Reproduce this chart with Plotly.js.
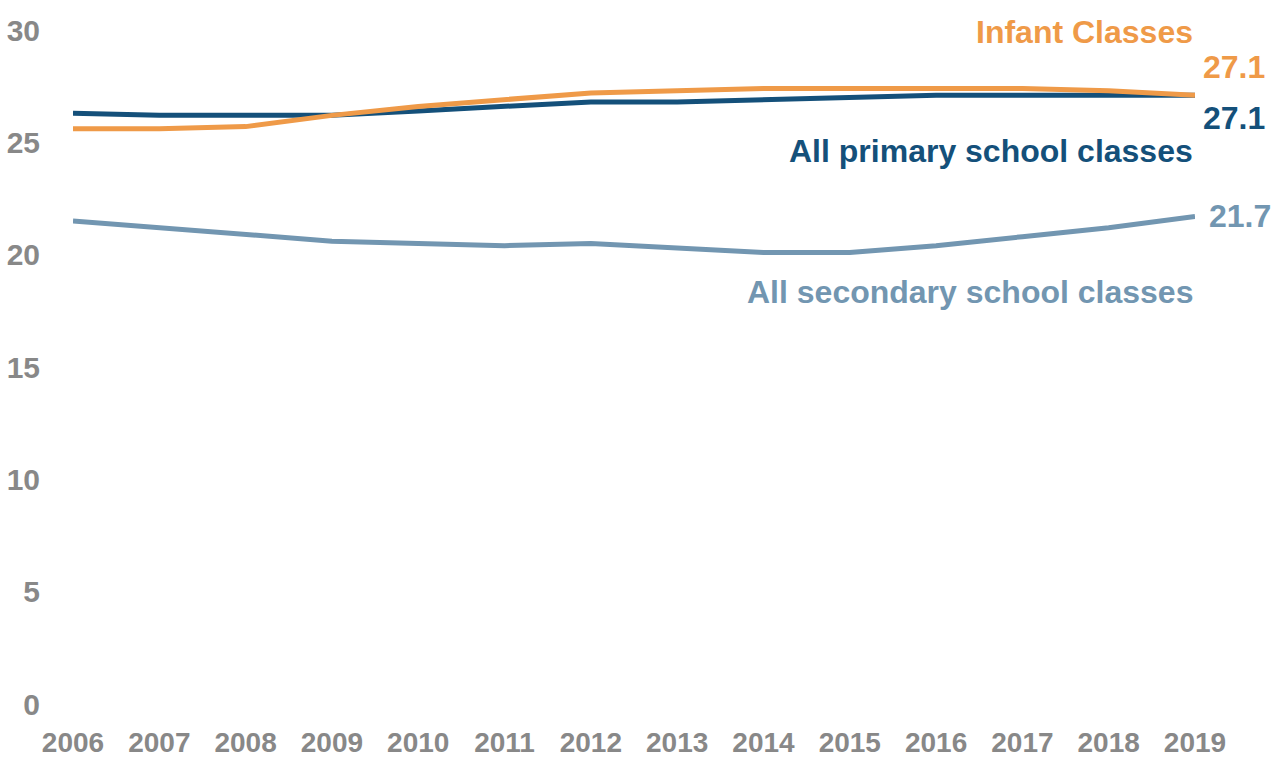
<!DOCTYPE html>
<html>
<head>
<meta charset="utf-8">
<script src="https://cdn.plot.ly/plotly-3.0.1.min.js"></script>
<style>
  html, body { margin: 0; padding: 0; background: #ffffff; }
  #chart { width: 1279px; height: 758px; }
</style>
</head>
<body>
<div id="chart"></div>
<script>
const years = [2006, 2007, 2008, 2009, 2010, 2011, 2012, 2013, 2014, 2015, 2016, 2017, 2018, 2019];
const infantClasses = [25.6, 25.6, 25.7, 26.2, 26.6, 26.9, 27.2, 27.3, 27.4, 27.4, 27.4, 27.4, 27.3, 27.1];
const primaryClasses = [26.3, 26.2, 26.2, 26.2, 26.4, 26.6, 26.8, 26.8, 26.9, 27.0, 27.1, 27.1, 27.1, 27.1];
const secondaryClasses = [21.5, 21.2, 20.9, 20.6, 20.5, 20.4, 20.5, 20.3, 20.1, 20.1, 20.4, 20.8, 21.2, 21.7];
const yTicks = [0, 5, 10, 15, 20, 25, 30];
const seriesNames = ["Infant Classes", "All primary school classes", "All secondary school classes"];

const cOrange = "#EF9A48";
const cDark = "#14507A";
const cLight = "#7296B1";
const cGrey = "#888888";
const fontFam = "Liberation Sans, Arial, sans-serif";

const traces = [
  { x: years, y: secondaryClasses, name: seriesNames[2], mode: "lines", line: { color: cLight, width: 5 } },
  { x: years, y: primaryClasses, name: seriesNames[1], mode: "lines", line: { color: cDark, width: 5 } },
  { x: years, y: infantClasses, name: seriesNames[0], mode: "lines", line: { color: cOrange, width: 5 } }
];

const last = years.length - 1;
const fmt = v => v.toFixed(1);
const ann = (text, x, y, color, xanchor, xshift) => ({
  text: "<b>" + text + "</b>", x: x, y: y, xref: "x", yref: "y",
  xanchor: xanchor, yanchor: "middle", xshift: xshift || 0, showarrow: false,
  font: { family: fontFam, size: 32, color: color }
});

const layout = {
  width: 1279, height: 758,
  margin: { l: 73, r: 84, t: 30, b: 54 },
  paper_bgcolor: "#ffffff", plot_bgcolor: "#ffffff",
  showlegend: false,
  font: { family: fontFam, color: cGrey },
  xaxis: {
    range: [years[0], years[last]],
    tickvals: years, ticktext: years.map(y => "<b>" + y + "</b>"),
    showgrid: false, zeroline: false, showline: false,
    ticks: "outside", ticklen: 13, tickcolor: "rgba(0,0,0,0)",
    tickfont: { family: fontFam, size: 28, color: cGrey },
    fixedrange: true
  },
  yaxis: {
    range: [0, 30],
    tickvals: yTicks, ticktext: yTicks.map(v => "<b>" + v + "</b>"),
    showgrid: false, zeroline: false, showline: false,
    ticks: "outside", ticklen: 26, tickcolor: "rgba(0,0,0,0)",
    tickfont: { family: fontFam, size: 30, color: cGrey },
    fixedrange: true
  },
  annotations: [
    ann(seriesNames[0], years[last], 29.9, cOrange, "right", 0),
    ann(fmt(infantClasses[last]), years[last], 28.35, cOrange, "left", 6),
    ann(fmt(primaryClasses[last]), years[last], 26.1, cDark, "left", 6),
    ann(seriesNames[1], years[last], 24.6, cDark, "right", 0),
    ann(fmt(secondaryClasses[last]), years[last], 21.7, cLight, "left", 12),
    ann(seriesNames[2], years[last], 18.35, cLight, "right", 0)
  ]
};

Plotly.newPlot("chart", traces, layout, { displayModeBar: false, staticPlot: true });
</script>
</body>
</html>
